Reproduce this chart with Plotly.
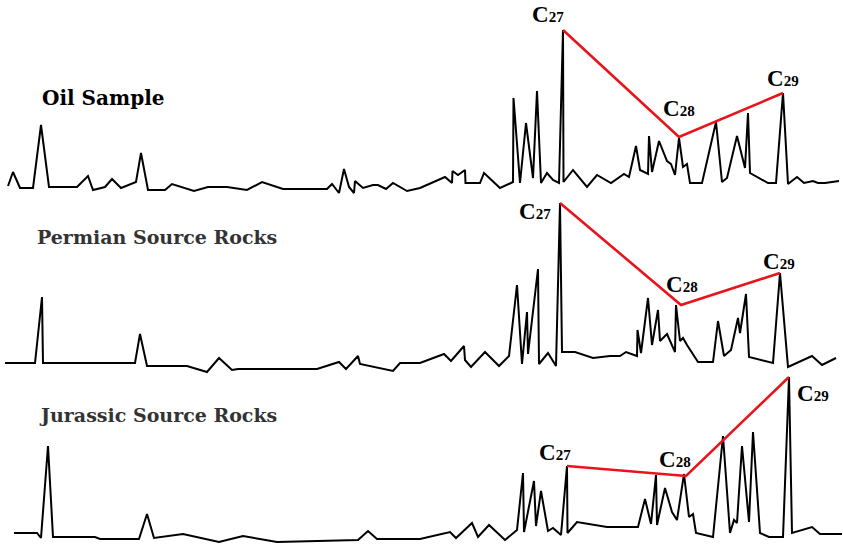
import plotly.graph_objects as go

# ---------------- data (retention position, relative abundance) ----------------
oil_rt = [8, 13, 20, 33, 41, 49, 77, 88, 93, 105, 112, 121, 136, 141, 148, 165, 172, 194, 208, 227,
          247, 262, 283, 327, 332, 339, 344, 349, 354, 355, 363, 373, 378, 386, 393, 407, 420, 445, 452, 452.5,
          458, 465, 465.5, 480, 484, 500, 513, 513.5, 520, 526, 533, 537, 541, 547, 553, 559, 563, 563.5, 573, 583,
          587, 597, 611, 624, 629, 636, 640, 648, 649, 652, 659, 667, 671, 675, 679, 683, 687, 690, 702, 716,
          722, 727, 737, 745, 748, 750, 768, 776, 783, 788, 797, 804, 813, 818, 825, 839]
oil_ab = [9, 23, 7, 7, 70, 8, 8, 19, 5, 8, 16, 7, 13, 42, 5, 5, 11, 4, 8, 8,
          5, 13, 6, 6, 11, 2, 26, 8, 2, 14, 7, 10, 10, 6, 12, 4, 7, 18, 12, 24,
          20, 25, 12, 12, 22, 7, 13, 97, 12, 72, 17, 104, 12, 22, 15, 12, 165, 13, 25, 12,
          8, 20, 12, 21, 18, 49, 25, 21, 59, 23, 54, 34, 31, 20, 57, 28, 31, 12, 12, 73,
          13, 17, 59, 27, 82, 22, 12, 12, 102, 11, 18, 12, 14, 12, 12, 14]

perm_rt = [5, 35, 42, 43, 135, 140, 147, 187, 207, 219, 232, 238, 317, 339, 346, 358, 360, 393, 400, 420,
           444, 451, 464, 465, 471, 485, 499, 509, 517, 522, 527, 528, 538, 539, 548, 556, 560, 562, 575, 593,
           610, 620, 626, 637, 637.5, 641, 648, 652, 658, 660, 667, 675, 676, 680, 683, 687, 698, 713, 718, 724,
           731, 738, 740, 746, 749, 773, 780, 788, 812, 822, 836]
perm_ab = [12, 12, 78, 12, 12, 41, 9, 9, 3, 17, 5, 6, 6, 13, 6, 19, 11, 4, 12, 12,
           21, 14, 29, 15, 8, 23, 9, 19, 90, 11, 63, 21, 106, 11, 22, 9, 172, 23, 23, 17,
           19, 19, 23, 19, 45, 22, 77, 30, 65, 34, 41, 23, 70, 34, 37, 30, 13, 13, 54, 19,
           25, 57, 42, 81, 18, 12, 102, 8, 19, 10, 17]

jur_rt = [14, 37, 41, 48, 53, 95, 100, 139, 147, 154, 183, 219, 243, 277, 358, 368, 377, 420, 450, 456,
          472, 478, 489, 505, 517, 523, 524, 534, 536, 541, 548, 553, 561, 567, 567.5, 577, 607, 638, 645, 651,
          656, 657, 665, 672, 677, 684, 689, 693, 696, 713, 723, 730, 734, 737, 742, 749, 753, 760, 769, 783,
          789, 792, 812, 820, 842]
jur_ab = [12, 12, 7, 99, 8, 8, 6, 6, 31, 7, 11, 3, 9, 3, 5, 14, 6, 6, 13, 7,
          22, 8, 20, 5, 15, 72, 13, 64, 19, 54, 14, 17, 10, 79, 12, 23, 18, 18, 46, 21,
          70, 20, 57, 33, 25, 71, 28, 31, 12, 8, 109, 12, 25, 22, 99, 23, 113, 12, 8, 8,
          168, 12, 18, 11, 11]

# C27 / C28 / C29 sterane peaks (retention, abundance) joined by the red trend line
oil_ster_rt = [563, 679, 783]
oil_ster_ab = [165, 58, 102]
perm_ster_rt = [560, 681, 780]
perm_ster_ab = [172, 70, 102]
jur_ster_rt = [567, 686, 789]
jur_ster_ab = [79, 69, 168]

ster_names = ["27", "28", "29"]
panel_titles = ["Oil Sample", "Permian Source Rocks", "Jurassic Source Rocks"]

# ---------------- figure ----------------
W, H = 843, 545
SERIF = "Liberation Serif, Times New Roman, serif"
DSERIF = "DejaVu Serif, serif"
fig = go.Figure()

panels = [
    (oil_rt, oil_ab, oil_ster_rt, oil_ster_ab, "y"),
    (perm_rt, perm_ab, perm_ster_rt, perm_ster_ab, "y2"),
    (jur_rt, jur_ab, jur_ster_rt, jur_ster_ab, "y3"),
]
for rt, ab, srt, sab, ya in panels:
    fig.add_trace(go.Scatter(x=rt, y=ab, mode="lines", yaxis=ya,
                             line=dict(color="black", width=2), hoverinfo="skip", showlegend=False))
    fig.add_trace(go.Scatter(x=srt, y=sab, mode="lines", yaxis=ya,
                             line=dict(color="#e8141b", width=2.6), hoverinfo="skip", showlegend=False))

# panel pixel bands (top, bottom)
bands = [(0, 195), (195, 375), (375, 545)]
axes = {}
for i, (top, bot) in enumerate(bands):
    key = "yaxis" if i == 0 else f"yaxis{i+1}"
    axes[key] = dict(domain=[(H - bot) / H, (H - top) / H], range=[0, bot - top],
                     visible=False, fixedrange=True)

title_pos = [(40, 97, "y", "black", DSERIF, 20),
             (35, 138, "y2", "#333333", DSERIF, 19),
             (37, 130, "y3", "#333333", DSERIF, 19)]
annotations = []
for (tx, ty, yr, col, fam, sz), txt in zip(title_pos, panel_titles):
    annotations.append(dict(x=tx, y=ty, xref="x", yref=yr, text=f"<b>{txt}</b>",
                            showarrow=False, xanchor="left", yanchor="middle",
                            font=dict(family=fam, size=sz, color=col)))

label_pos = [
    ("y", [(548, 181), (679, 87), (783, 117)]),
    ("y2", [(535, 163), (682, 91), (779, 114)]),
    ("y3", [(555, 93), (675, 86), (813, 152)]),
]
for yr, pts in label_pos:
    for (lx, ly), n in zip(pts, ster_names):
        annotations.append(dict(x=lx, y=ly, xref="x", yref=yr,
                                text=f"<b>C<span style='font-size:15px'>{n}</span></b>",
                                showarrow=False, xanchor="center", yanchor="middle",
                                font=dict(family=SERIF, size=23, color="black")))

fig.update_layout(
    width=W, height=H,
    margin=dict(l=0, r=0, t=0, b=0),
    paper_bgcolor="white", plot_bgcolor="white",
    xaxis=dict(range=[0, W], visible=False, fixedrange=True),
    annotations=annotations,
    **axes,
)

fig.write_html("out.html", config={"displayModeBar": False},
               post_script="document.body.style.margin='0';document.body.style.overflow='hidden';")
